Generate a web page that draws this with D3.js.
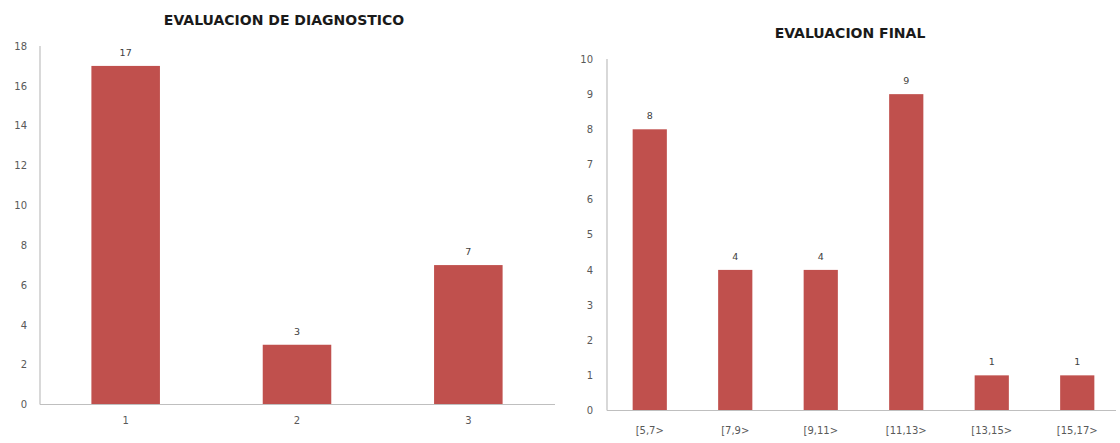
<!DOCTYPE html>
<html>
<head>
<meta charset="utf-8">
<script src="https://cdn.jsdelivr.net/npm/d3@7"></script>
<style>
  html, body { margin: 0; padding: 0; background: #fff; }
  svg { display: block; }
  .tick text { font-family: "DejaVu Sans", sans-serif; font-size: 10px; fill: #595959; }
  .title { font-family: "DejaVu Sans", sans-serif; font-weight: bold; font-size: 14px; fill: #1a1a1a; }
  .val { font-family: "DejaVu Sans", sans-serif; font-size: 9.5px; fill: #404040; }
</style>
</head>
<body>
<svg id="chart" width="1120" height="443"></svg>
<script>
// Diagnostic evaluation
const diagTitle = "EVALUACION DE DIAGNOSTICO";
const diagCategories = ["1", "2", "3"];
const diagValues = [17, 3, 7];
const diagTicks = [0, 2, 4, 6, 8, 10, 12, 14, 16, 18];

// Final evaluation (score ranges)
const finalTitle = "EVALUACION FINAL";
const finalCategories = ["[5,7>", "[7,9>", "[9,11>", "[11,13>", "[13,15>", "[15,17>"];
const finalValues = [8, 4, 4, 9, 1, 1];
const finalTicks = [0, 1, 2, 3, 4, 5, 6, 7, 8, 9, 10];

const svg = d3.select("#chart");
const barColor = "#C0504D";
const axisColor = "#BFBFBF";

function drawPanel(cfg) {
  const g = svg.append("g");
  const x = d3.scaleBand()
    .domain(cfg.categories)
    .range([cfg.x0, cfg.x1])
    .paddingInner(0.6)
    .paddingOuter(0.3);
  const y = d3.scaleLinear()
    .domain([0, cfg.max])
    .range([cfg.y0, cfg.y1]);

  // y axis: labels only, plus vertical line
  const yAxis = d3.axisLeft(y).tickValues(cfg.ticks).tickSize(0).tickPadding(cfg.tickPad);
  const ya = g.append("g").attr("transform", `translate(${cfg.x0},0)`).call(yAxis);
  ya.select(".domain").remove();
  g.append("line")
    .attr("x1", cfg.x0).attr("x2", cfg.x0)
    .attr("y1", y(cfg.max)).attr("y2", y(0))
    .attr("stroke", axisColor).attr("stroke-width", 1.2);

  // bars
  g.selectAll("rect.bar")
    .data(cfg.values)
    .join("rect")
    .attr("class", "bar")
    .attr("x", (d, i) => x(cfg.categories[i]))
    .attr("width", x.bandwidth())
    .attr("y", d => y(d))
    .attr("height", d => y(0) - y(d))
    .attr("fill", barColor);

  // value labels
  g.selectAll("text.val")
    .data(cfg.values)
    .join("text")
    .attr("class", "val")
    .attr("x", (d, i) => x(cfg.categories[i]) + x.bandwidth() / 2)
    .attr("y", d => y(d) - 10)
    .attr("text-anchor", "middle")
    .text(d => d);

  // x axis
  const xAxis = d3.axisBottom(x).tickSize(0).tickPadding(cfg.xPad);
  const xa = g.append("g").attr("transform", `translate(0,${y(0)})`).call(xAxis);
  xa.select(".domain").remove();
  g.append("line")
    .attr("x1", cfg.x0).attr("x2", cfg.xEnd)
    .attr("y1", y(0)).attr("y2", y(0))
    .attr("stroke", axisColor).attr("stroke-width", 1.2);

  // title
  g.append("text")
    .attr("class", "title")
    .attr("x", cfg.titleX).attr("y", cfg.titleY)
    .attr("text-anchor", "middle")
    .text(cfg.title);
}

drawPanel({
  title: diagTitle, categories: diagCategories, values: diagValues, ticks: diagTicks,
  max: 18, x0: 40, x1: 554, xEnd: 555, y0: 404.5, y1: 46,
  tickPad: 13, xPad: 12, titleX: 284, titleY: 25
});

drawPanel({
  title: finalTitle, categories: finalCategories, values: finalValues, ticks: finalTicks,
  max: 10, x0: 607, x1: 1120, xEnd: 1116, y0: 410.5, y1: 59,
  tickPad: 14, xPad: 16, titleX: 850, titleY: 38
});
</script>
</body>
</html>
